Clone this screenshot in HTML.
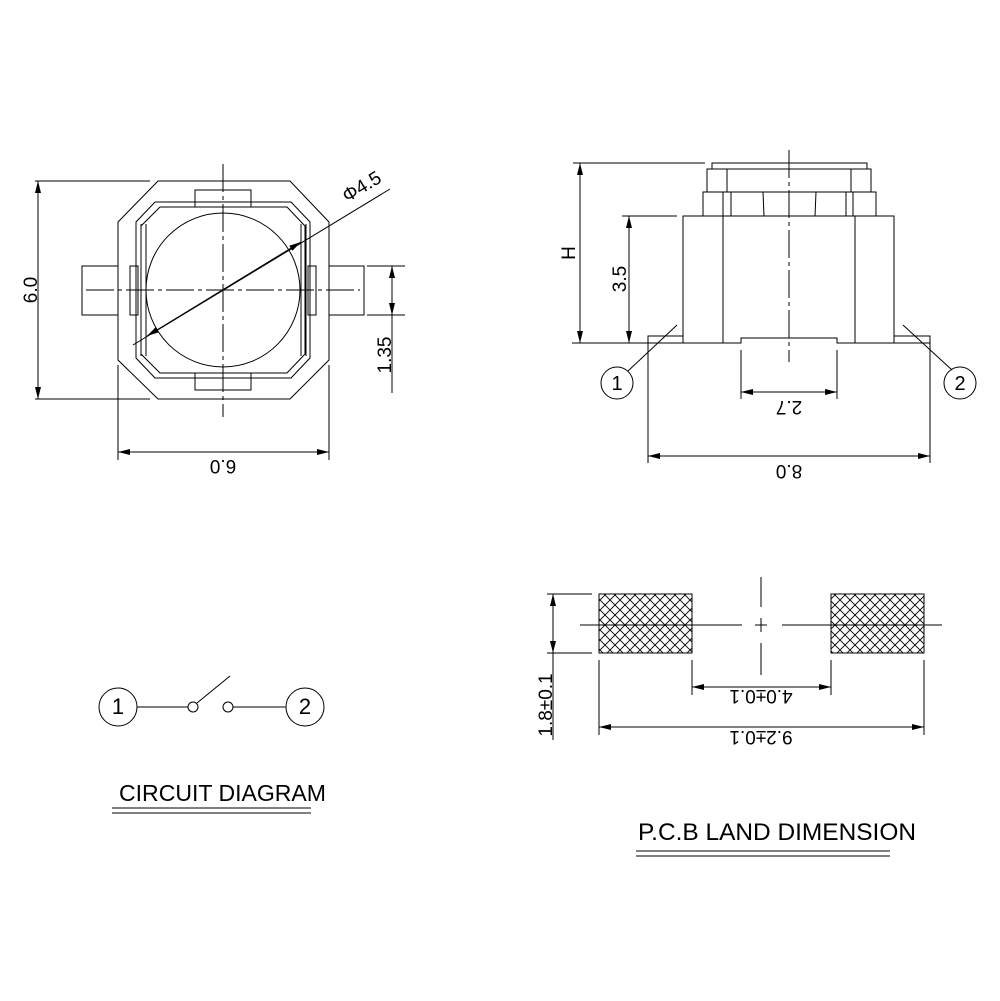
<!DOCTYPE html>
<html><head><style>
html,body{margin:0;padding:0;background:#fff;}
svg{display:block;}
text{font-family:"Liberation Sans",sans-serif;}
</style></head><body>
<svg width="1000" height="1001" viewBox="0 0 1000 1001" xmlns="http://www.w3.org/2000/svg">
<defs>
<pattern id="hx" width="10" height="10" patternUnits="userSpaceOnUse">
<path d="M0 0L10 10M10 0L0 10" stroke="#000" stroke-width="0.9"/>
</pattern>
<marker id="a" viewBox="0 0 12 6" refX="12" refY="3" markerWidth="12" markerHeight="6" orient="auto-start-reverse" markerUnits="userSpaceOnUse"><path d="M0 0L12 3L0 6z" fill="#000"/></marker>
</defs>
<g fill="none" stroke="#000" stroke-width="1">
<!-- TOP LEFT -->
<polygon points="158,181 290,181 329,222 329,360 290,399 158,399 118,360 118,222"/>
<rect x="82" y="266" width="36" height="49"/>
<rect x="329" y="266" width="35" height="49"/>
<rect x="195" y="190" width="56" height="17"/>
<rect x="195" y="373" width="56" height="17"/>
<polygon points="155,202 291,202 310,222 310,358 291,378 155,378 136,358 136,222"/>
<polygon points="160,207 287,207 305,226 305,354 287,373 160,373 141,354 141,226"/>
<rect x="130" y="266" width="8" height="49"/>
<rect x="308" y="266" width="8" height="49"/>
<line x1="141" y1="224" x2="141" y2="356"/><line x1="146" y1="224" x2="146" y2="356"/>
<line x1="301" y1="224" x2="301" y2="356"/><line x1="306" y1="224" x2="306" y2="356"/>
<circle cx="223" cy="290" r="77"/>
<line x1="223" y1="164" x2="223" y2="417" stroke-dasharray="28,4,4,4"/>
<line x1="86" y1="290" x2="360" y2="290" stroke-dasharray="28,4,4,4"/>
<line x1="133" y1="345" x2="390" y2="189"/>
<line x1="147" y1="336" x2="301" y2="242" marker-start="url(#a)" marker-end="url(#a)"/>
<line x1="35" y1="181" x2="150" y2="181"/><line x1="35" y1="399" x2="150" y2="399"/>
<line x1="38" y1="181" x2="38" y2="399" marker-start="url(#a)" marker-end="url(#a)"/>
<line x1="118" y1="365" x2="118" y2="460"/><line x1="329" y1="365" x2="329" y2="460"/>
<line x1="118" y1="452" x2="329" y2="452" marker-start="url(#a)" marker-end="url(#a)"/>
<line x1="367" y1="266" x2="405" y2="266"/><line x1="367" y1="315" x2="405" y2="315"/>
<line x1="392" y1="266" x2="392" y2="315" marker-start="url(#a)" marker-end="url(#a)"/>
<line x1="392" y1="315" x2="392" y2="393"/>
<!-- TOP RIGHT -->
<rect x="712" y="163" width="155" height="6"/>
<rect x="707" y="169" width="164" height="23"/>
<line x1="727" y1="169" x2="727" y2="192"/><line x1="851" y1="169" x2="851" y2="192"/>
<rect x="703" y="192" width="173" height="24"/>
<line x1="723" y1="192" x2="723" y2="216"/><line x1="731" y1="192" x2="731" y2="216"/>
<line x1="763" y1="192" x2="764" y2="216"/><line x1="816" y1="192" x2="815" y2="216"/>
<line x1="846" y1="192" x2="846" y2="216"/><line x1="853" y1="192" x2="853" y2="216"/>
<polyline points="683,343 683,216 894,216 894,343 837,343 837,338 741,338 741,343 683,343"/>
<line x1="723" y1="216" x2="723" y2="343"/><line x1="855" y1="216" x2="855" y2="343"/>
<rect x="648" y="336" width="35" height="7"/>
<rect x="894" y="336" width="36" height="7"/>
<line x1="789" y1="150" x2="789" y2="362" stroke-dasharray="28,4,4,4"/>
<line x1="573" y1="163" x2="705" y2="163"/>
<line x1="572" y1="343" x2="683" y2="343"/>
<line x1="580" y1="163" x2="580" y2="343" marker-start="url(#a)" marker-end="url(#a)"/>
<line x1="622" y1="216" x2="677" y2="216"/>
<line x1="629" y1="216" x2="629" y2="343" marker-start="url(#a)" marker-end="url(#a)"/>
<line x1="741" y1="350" x2="741" y2="399"/><line x1="837" y1="350" x2="837" y2="399"/>
<line x1="741" y1="392" x2="837" y2="392" marker-start="url(#a)" marker-end="url(#a)"/>
<line x1="648" y1="343" x2="648" y2="463"/><line x1="930" y1="343" x2="930" y2="463"/>
<line x1="648" y1="456" x2="930" y2="456" marker-start="url(#a)" marker-end="url(#a)"/>
<circle cx="617" cy="383" r="16"/><circle cx="960" cy="383" r="16"/>
<line x1="628" y1="371" x2="677" y2="325"/><line x1="903" y1="325" x2="952" y2="370"/>
<!-- PCB -->
<rect x="599" y="594" width="93" height="59" fill="url(#hx)"/>
<rect x="831" y="594" width="93" height="59" fill="url(#hx)"/>
<line x1="580" y1="625" x2="742" y2="625"/><line x1="782" y1="625" x2="942" y2="625"/>
<line x1="755" y1="625" x2="767" y2="625"/>
<line x1="761" y1="577" x2="761" y2="607"/><line x1="761" y1="618" x2="761" y2="632"/><line x1="761" y1="643" x2="761" y2="675"/>
<line x1="547" y1="594" x2="592" y2="594"/><line x1="547" y1="653" x2="592" y2="653"/>
<line x1="553" y1="594" x2="553" y2="653" marker-start="url(#a)" marker-end="url(#a)"/>
<line x1="553" y1="653" x2="553" y2="740"/>
<line x1="692" y1="660" x2="692" y2="695"/><line x1="831" y1="660" x2="831" y2="695"/>
<line x1="692" y1="687" x2="831" y2="687" marker-start="url(#a)" marker-end="url(#a)"/>
<line x1="599" y1="660" x2="599" y2="735"/><line x1="924" y1="660" x2="924" y2="735"/>
<line x1="599" y1="727" x2="924" y2="727" marker-start="url(#a)" marker-end="url(#a)"/>
<!-- CIRCUIT -->
<circle cx="118" cy="707" r="19"/><circle cx="305" cy="707" r="19"/>
<line x1="137" y1="707" x2="188" y2="707"/>
<circle cx="193" cy="707" r="5"/><circle cx="228" cy="707" r="5"/>
<line x1="197" y1="703" x2="230" y2="676"/>
<line x1="233" y1="707" x2="286" y2="707"/>
<line x1="112" y1="808" x2="311" y2="808"/><line x1="112" y1="813" x2="311" y2="813"/>
<line x1="636" y1="851" x2="890" y2="851"/><line x1="636" y1="856" x2="890" y2="856"/>
</g>
<g font-size="19" fill="#000" text-anchor="middle">
<text transform="translate(37,290) rotate(-90)">6.0</text>
<text transform="translate(223,460) rotate(180)">6.0</text>
<text transform="translate(391,355) rotate(-90)">1.35</text>
<text transform="translate(365,192) rotate(-31)">Φ4.5</text>
<text transform="translate(575,253) rotate(-90)">H</text>
<text transform="translate(626,279) rotate(-90)">3.5</text>
<text transform="translate(789,401) rotate(180)">2.7</text>
<text transform="translate(789,465) rotate(180)">8.0</text>
<text transform="translate(552,705) rotate(-90)">1.8±0.1</text>
<text transform="translate(761,690) rotate(180)">4.0±0.1</text>
<text transform="translate(761,731) rotate(180)">9.2±0.1</text>
<text x="617" y="390" font-size="20">1</text>
<text x="960" y="390" font-size="20">2</text>
<text x="118" y="714" font-size="22">1</text>
<text x="305" y="714" font-size="22">2</text>
</g>
<text x="119" y="801" font-size="23" fill="#000" textLength="207" lengthAdjust="spacingAndGlyphs">CIRCUIT DIAGRAM</text>
<text x="638" y="840" font-size="24" fill="#000" textLength="278" lengthAdjust="spacingAndGlyphs">P.C.B LAND DIMENSION</text>
</svg>
</body></html>
